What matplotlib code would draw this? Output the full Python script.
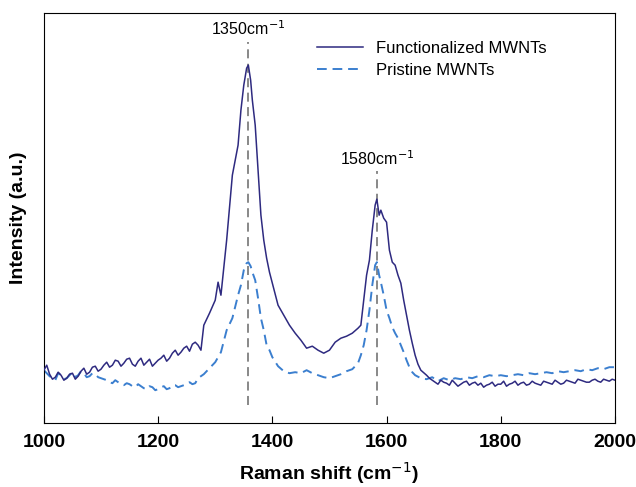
import matplotlib
matplotlib.use("Agg")
import matplotlib.pyplot as plt

plt.rcParams['font.family'] = ['Liberation Sans', 'DejaVu Sans']

# Functionalized MWNTs (solid)
func_shift = [1000, 1010, 1020, 1030, 1040, 1050, 1060, 1070, 1080, 1090,
              1100, 1110, 1120, 1130, 1140, 1150, 1160, 1170, 1180, 1190,
              1200, 1210, 1220, 1230, 1240, 1250, 1260, 1270, 1275, 1280,
              1290, 1300, 1305, 1310, 1315, 1320, 1330, 1335, 1340, 1345,
              1350, 1355, 1358, 1362, 1365, 1370, 1375, 1380, 1385, 1390,
              1395, 1400, 1410, 1420, 1430, 1440, 1450, 1460, 1470, 1480,
              1490, 1500, 1510, 1520, 1530, 1540, 1550, 1555, 1560, 1565,
              1570, 1575, 1580, 1583, 1587, 1590, 1595, 1600, 1605, 1610,
              1615, 1620, 1625, 1630, 1635, 1640, 1645, 1650, 1655, 1660,
              1670, 1680, 1690, 1700, 1710, 1720, 1730, 1740, 1750, 1760,
              1770, 1780, 1790, 1800, 1810, 1820, 1830, 1840, 1850, 1860,
              1870, 1880, 1890, 1900, 1910, 1920, 1930, 1940, 1950, 1960,
              1970, 1980, 1990, 2000]
func_int = [53, 49, 46, 48, 45, 50, 47, 55, 51, 57,
            54, 61, 58, 62, 60, 65, 57, 65, 61, 57,
            63, 68, 65, 73, 71, 77, 79, 78, 73, 98,
            110, 123, 141, 128, 155, 183, 248, 263, 278, 313,
            338, 355, 358, 343, 323, 298, 253, 208, 183, 165,
            151, 140, 118, 108, 98, 90, 83, 75, 77, 73,
            70, 73, 81, 85, 87, 90, 95, 98, 123, 148,
            163, 193, 218, 224, 208, 213, 205, 201, 173, 161,
            158, 148, 140, 123, 108, 93, 80, 68, 59, 53,
            48, 43, 39, 41, 38, 40, 39, 42, 40, 38,
            36, 39, 37, 39, 37, 40, 38, 41, 39, 40,
            38, 41, 39, 41, 40, 42, 40, 43, 41, 43,
            42, 44, 42, 43]
# in-between readings on the noisy baseline
func_extra_shift = [1005, 1015, 1025, 1035, 1045, 1055, 1065, 1075, 1085, 1095,
                    1105, 1115, 1125, 1135, 1145, 1155, 1165, 1175, 1185, 1195,
                    1205, 1215, 1225, 1235, 1245, 1255, 1265,
                    1675, 1685, 1695, 1705, 1715, 1725, 1735, 1745, 1755, 1765,
                    1775, 1785, 1795, 1805, 1815, 1825, 1835, 1845, 1855, 1865,
                    1875, 1885, 1895, 1905, 1915, 1925, 1935, 1945, 1955, 1965,
                    1975, 1985, 1995]
func_extra_int = [58, 44, 51, 43, 49, 44, 52, 49, 56, 52,
                  58, 56, 63, 57, 64, 59, 62, 58, 64, 60,
                  65, 62, 70, 68, 75, 72, 81,
                  45, 41, 43, 40, 43, 37, 41, 38, 41, 40,
                  38, 41, 39, 42, 39, 42, 40, 38, 42, 39,
                  42, 40, 43, 39, 43, 41, 44, 42, 41, 44,
                  41, 43, 44]

# Pristine MWNTs (dashed)
pris_shift = [1000, 1010, 1020, 1030, 1040, 1050, 1060, 1070, 1080, 1090,
              1100, 1110, 1120, 1130, 1140, 1150, 1160, 1170, 1180, 1190,
              1200, 1210, 1220, 1230, 1240, 1250, 1260, 1270, 1280, 1290,
              1300, 1310, 1320, 1330, 1340, 1345, 1350, 1355, 1358, 1362,
              1365, 1370, 1375, 1380, 1385, 1390, 1395, 1400, 1410, 1420,
              1430, 1440, 1450, 1460, 1470, 1480, 1490, 1500, 1510, 1520,
              1530, 1540, 1550, 1555, 1560, 1565, 1570, 1575, 1580, 1583,
              1587, 1590, 1595, 1600, 1605, 1610, 1615, 1620, 1625, 1630,
              1635, 1640, 1645, 1650, 1660, 1670, 1680, 1690, 1700, 1710,
              1720, 1730, 1740, 1750, 1760, 1770, 1780, 1790, 1800, 1810,
              1820, 1830, 1840, 1850, 1860, 1870, 1880, 1890, 1900, 1910,
              1920, 1930, 1940, 1950, 1960, 1970, 1980, 1990, 2000]
pris_int = [53, 47, 43, 48, 45, 51, 48, 50, 47, 49,
            45, 43, 40, 41, 38, 39, 36, 37, 34, 36,
            34, 37, 35, 38, 37, 40, 39, 45, 49, 55,
            61, 71, 93, 105, 128, 138, 153, 160, 161, 157,
            151, 143, 125, 105, 93, 78, 73, 66, 57, 52,
            50, 51, 50, 53, 50, 48, 46, 45, 47, 49,
            52, 54, 60, 68, 78, 93, 113, 138, 158, 161,
            148, 141, 128, 113, 105, 96, 90, 85, 78, 71,
            63, 56, 51, 48, 45, 44, 46, 42, 45, 43,
            45, 44, 46, 45, 47, 46, 48, 47, 48, 47,
            48, 49, 48, 50, 49, 50, 51, 50, 52, 51,
            52, 53, 52, 54, 53, 55, 54, 56, 56]
pris_extra_shift = [1005, 1015, 1025, 1035, 1045, 1055, 1065, 1075, 1085, 1095,
                    1105, 1115, 1125, 1135, 1145, 1155, 1165, 1175, 1185, 1195,
                    1205, 1215, 1225, 1235, 1245, 1255, 1265]
pris_extra_int = [50, 45, 50, 44, 48, 46, 52, 46, 50, 46,
                  44, 41, 43, 39, 40, 37, 39, 35, 37, 33,
                  36, 34, 38, 36, 38, 41, 40]

peaks = [1357, 1583]
peak_labels = ['1350cm$^{-1}$', '1580cm$^{-1}$']
line_tops = [381, 252]
label_y = [385, 255]


def merged(xs, ys, xe, ye):
    pairs = sorted(zip(list(xs) + list(xe), list(ys) + list(ye)))
    return [p[0] for p in pairs], [p[1] for p in pairs]


fx, fy = merged(func_shift, func_int, func_extra_shift, func_extra_int)
px, py = merged(pris_shift, pris_int, pris_extra_shift, pris_extra_int)

fig = plt.figure(figsize=(6.36, 4.87), dpi=100)
ax = fig.add_axes([0.069, 0.131, 0.898, 0.842])

for p, top in zip(peaks, line_tops):
    ax.plot([p, p], [18, top], color='#7f7f7f', lw=1.3, ls=(0, (5, 3)), zorder=1)

ax.plot(fx, fy, color='#2e2a80', lw=1.1, label='Functionalized MWNTs', zorder=3)
ax.plot(px, py, color='#3b7fcf', lw=1.4, ls=(0, (5, 3)), label='Pristine MWNTs', zorder=2)

for p, lab, yy in zip(peaks, peak_labels, label_y):
    ax.text(p, yy, lab, ha='center', va='bottom', fontsize=11.5)

ax.set_xlim(1000, 2000)
ax.set_ylim(0, 410)
ax.set_xticks([1000, 1200, 1400, 1600, 1800, 2000])
ax.set_yticks([])
ax.tick_params(axis='x', direction='in', length=5, labelsize=14, pad=8)
for t in ax.get_xticklabels():
    t.set_fontweight('bold')
ax.set_xlabel('Raman shift (cm$^{-1}$)', fontsize=14, fontweight='bold', labelpad=6)
ax.set_ylabel('Intensity (a.u.)', fontsize=14, fontweight='bold', labelpad=12)

ax.legend(loc='upper left', bbox_to_anchor=(0.452, 0.968), frameon=False, fontsize=12,
          handlelength=2.75, handletextpad=0.8, labelspacing=0.4)

fig.savefig('out.png', dpi=100)
